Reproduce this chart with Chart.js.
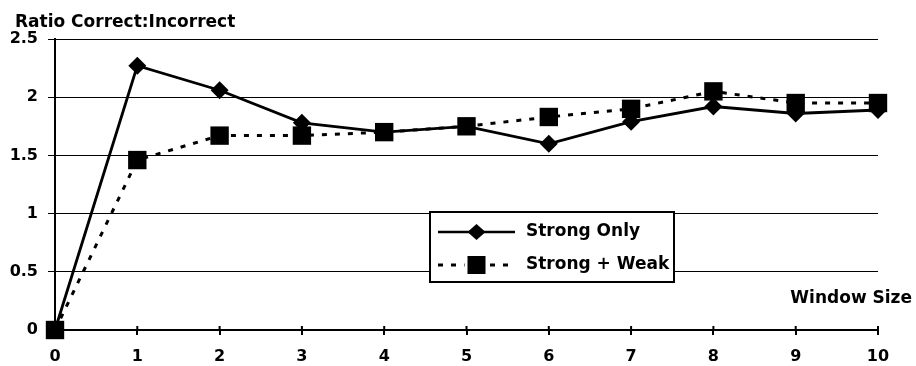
<!DOCTYPE html>
<html>
<head>
<meta charset="utf-8">
<script src="https://cdn.jsdelivr.net/npm/chart.js@4/dist/chart.umd.min.js"></script>
<style>
  html, body { margin: 0; padding: 0; background: #fff; }
  #wrap { width: 916px; height: 366px; position: relative; }
</style>
</head>
<body>
<div id="wrap"><canvas id="c" width="916" height="366"></canvas></div>
<script>
// Window sizes on the x axis
const windowSizes = [0, 1, 2, 3, 4, 5, 6, 7, 8, 9, 10];
// Ratio of correct to incorrect, per series
const strongOnly = [0, 2.27, 2.06, 1.78, 1.70, 1.75, 1.60, 1.79, 1.92, 1.86, 1.89];
const strongWeak = [0, 1.46, 1.67, 1.67, 1.70, 1.75, 1.83, 1.90, 2.05, 1.95, 1.95];
const seriesNames = ['Strong Only', 'Strong + Weak'];
const yTicks = [0, 0.5, 1, 1.5, 2, 2.5];

const yTitle = 'Ratio Correct:Incorrect';
const xTitle = 'Window Size';

const FONT = '"DejaVu Sans", "Liberation Sans", Arial, sans-serif';

const toPoints = vals => windowSizes.map((x, i) => ({ x: x, y: vals[i] }));

// Tick marks that cross the x axis on both sides
const crossTicks = {
  id: 'crossTicks',
  afterDraw(chart) {
    const ctx = chart.ctx;
    const xs = chart.scales.x;
    const yb = chart.chartArea.bottom;
    ctx.save();
    ctx.strokeStyle = '#000';
    ctx.lineWidth = 2;
    windowSizes.forEach(v => {
      const px = xs.getPixelForValue(v);
      ctx.beginPath();
      ctx.moveTo(px, yb - 4);
      ctx.lineTo(px, yb);
      ctx.stroke();
    });
    ctx.restore();
  }
};

// Axis captions and the boxed legend, drawn on the canvas
const decorations = {
  id: 'decorations',
  afterDatasetsDraw(chart) {
    const ctx = chart.ctx;
    const area = chart.chartArea;
    ctx.save();
    ctx.fillStyle = '#000';
    ctx.font = 'bold 17px ' + FONT;
    ctx.textBaseline = 'alphabetic';
    ctx.textAlign = 'left';
    ctx.fillText(yTitle, 15, 27);
    ctx.textAlign = 'right';
    ctx.textBaseline = 'middle';
    ctx.fillText(xTitle, area.right + 34, area.bottom - 31);

    // legend box
    const bx = 430, by = 212, bw = 244, bh = 70;
    ctx.fillStyle = '#fff';
    ctx.fillRect(bx, by, bw, bh);
    ctx.strokeStyle = '#000';
    ctx.lineWidth = 2;
    ctx.strokeRect(bx, by, bw, bh);

    const rows = [by + 20, by + 53];
    const x0 = bx + 8, x1 = bx + 85, xm = (x0 + x1) / 2;
    // solid line with diamond
    ctx.lineWidth = 2.5;
    ctx.beginPath();
    ctx.moveTo(x0, rows[0]); ctx.lineTo(x1, rows[0]);
    ctx.stroke();
    ctx.fillStyle = '#000';
    ctx.beginPath();
    ctx.moveTo(xm - 9, rows[0]);
    ctx.lineTo(xm, rows[0] - 8);
    ctx.lineTo(xm + 9, rows[0]);
    ctx.lineTo(xm, rows[0] + 8);
    ctx.closePath();
    ctx.fill();
    // dashed line with square
    ctx.lineWidth = 3;
    ctx.setLineDash([5, 8]);
    ctx.beginPath();
    ctx.moveTo(x0, rows[1]); ctx.lineTo(x1, rows[1]);
    ctx.stroke();
    ctx.setLineDash([]);
    ctx.fillStyle = '#fff';
    ctx.fillRect(xm - 12, rows[1] - 10, 24, 20);
    ctx.fillStyle = '#000';
    ctx.fillRect(xm - 9, rows[1] - 9, 18, 18);

    ctx.font = 'bold 17px ' + FONT;
    ctx.textAlign = 'left';
    ctx.textBaseline = 'middle';
    ctx.fillText(seriesNames[0], bx + 96, rows[0]);
    ctx.fillText(seriesNames[1], bx + 96, rows[1]);
    ctx.restore();
  }
};

new Chart(document.getElementById('c'), {
  type: 'line',
  data: {
    datasets: [
      {
        label: seriesNames[0],
        data: toPoints(strongOnly),
        borderColor: '#000',
        backgroundColor: '#000',
        borderWidth: 2.8,
        pointStyle: 'rectRot',
        pointRadius: 9,
        pointBorderWidth: 0,
        tension: 0,
        clip: false,
        order: 1
      },
      {
        label: seriesNames[1],
        data: toPoints(strongWeak),
        borderColor: '#000',
        backgroundColor: '#000',
        borderWidth: 3,
        borderDash: [5, 8],
        pointStyle: 'rect',
        pointRadius: 13,
        pointBorderWidth: 0,
        tension: 0,
        clip: false,
        order: 0
      }
    ]
  },
  options: {
    responsive: false,
    animation: false,
    layout: { padding: { top: 39, right: 38, left: 0, bottom: 0 } },
    plugins: {
      legend: { display: false },
      title: { display: false },
      tooltip: { enabled: false }
    },
    scales: {
      x: {
        type: 'linear',
        min: 0,
        max: 10,
        afterFit(scale) { scale.height = 36; },
        ticks: {
          stepSize: 1,
          color: '#000',
          padding: 12,
          font: { family: FONT, size: 16, weight: 'bold' }
        },
        grid: {
          drawOnChartArea: false,
          drawTicks: true,
          tickLength: 5,
          color: '#000',
          lineWidth: 2
        },
        border: { color: '#000', width: 2 }
      },
      y: {
        min: 0,
        max: 2.5,
        afterFit(scale) { scale.width = 55; },
        afterBuildTicks(scale) { scale.ticks = yTicks.map(v => ({ value: v })); },
        ticks: {
          color: '#000',
          padding: 10,
          font: { family: FONT, size: 16, weight: 'bold' },
          callback: v => String(v)
        },
        grid: {
          color: '#000',
          lineWidth: 1,
          tickLength: 7
        },
        border: { color: '#000', width: 2 }
      }
    }
  },
  plugins: [crossTicks, decorations]
});
</script>
</body>
</html>
